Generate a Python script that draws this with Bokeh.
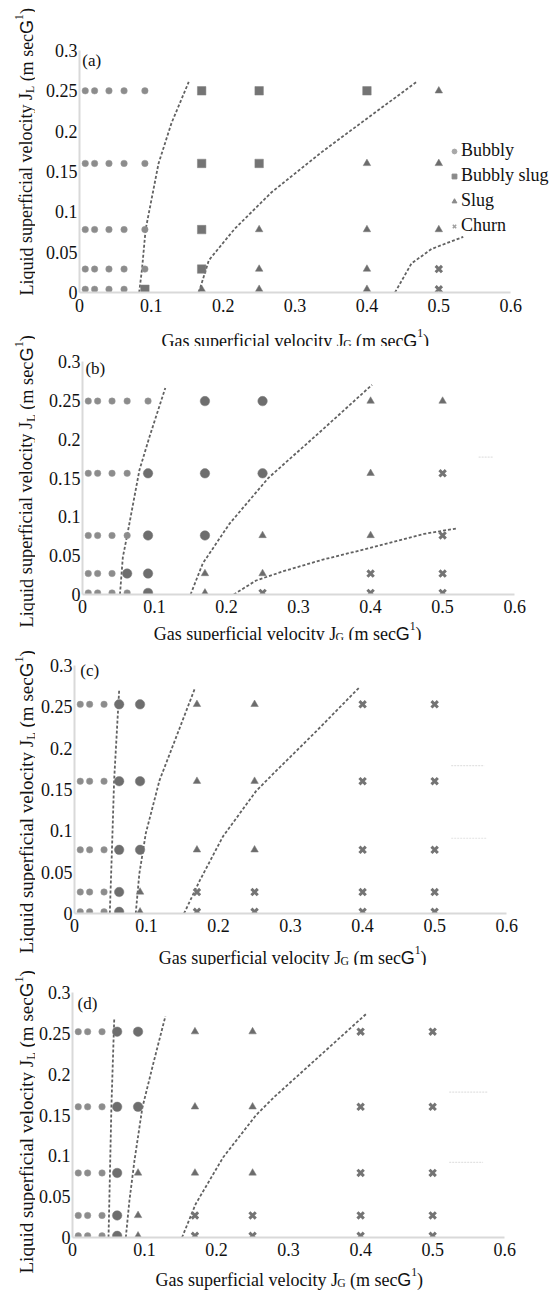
import math
from bokeh.plotting import figure
from bokeh.models import Range1d, FixedTicker, Legend, LegendItem, ColumnDataSource, Spacer
from bokeh.core.properties import field
from bokeh.layouts import row, column
from bokeh.embed import file_html
from bokeh.resources import INLINE

# ---------------- data ----------------
X_TICKS = [0, 0.1, 0.2, 0.3, 0.4, 0.5, 0.6]
X_TICK_LABELS = ["0", "0.1", "0.2", "0.3", "0.4", "0.5", "0.6"]
Y_TICKS = [0, 0.05, 0.1, 0.15, 0.2, 0.25, 0.3]
Y_TICK_LABELS = ["0", "0.05", "0.1", "0.15", "0.2", "0.25", "0.3"]

JG = [0.008, 0.021, 0.041, 0.062, 0.091, 0.17, 0.25, 0.4, 0.5]

JL_A = [0.25, 0.16, 0.078, 0.029, 0.004]
JL_B = [0.249, 0.156, 0.076, 0.027, 0.002]
JL_C = [0.253, 0.160, 0.077, 0.026, 0.002]
JL_D = [0.252, 0.160, 0.079, 0.027, 0.002]

# B = bubbly, S = bubbly slug, T = slug, C = churn (one string per JL row, one letter per JG)
REGIME_A = ["BBBBBSSST", "BBBBBSSTT", "BBBBBSTTT", "BBBBBSTTC", "BBBBSTTTC"]
REGIME_B = ["BBBBBSSTT", "BBBBSSSTC", "BBBBSSTTC", "BBBSSTTCC", "BBBBSTCCC"]
REGIME_C = ["BBBSSTTCC", "BBBSSTTCC", "BBBSSTTCC", "BBBSTCCCC", "BBBSTCCCC"]
REGIME_D = ["BBBSSTTCC", "BBBSSTTCC", "BBBSTTTCC", "BBBSTCCCC", "BBBSTCCCC"]

# transition boundaries (dashed)
A1_X = [0.083, 0.087, 0.092, 0.110, 0.128, 0.152]
A1_Y = [0.0, 0.029, 0.078, 0.160, 0.210, 0.261]
A2_X = [0.166, 0.180, 0.216, 0.267, 0.337, 0.402, 0.469]
A2_Y = [0.0, 0.040, 0.079, 0.124, 0.174, 0.217, 0.261]
A3_X = [0.439, 0.462, 0.490, 0.534]
A3_Y = [0.0, 0.036, 0.054, 0.069]

B1_X = [0.052, 0.056, 0.062, 0.079, 0.093, 0.115]
B1_Y = [0.0, 0.048, 0.076, 0.160, 0.203, 0.266]
B2_X = [0.150, 0.167, 0.204, 0.258, 0.333, 0.402]
B2_Y = [0.0, 0.040, 0.091, 0.150, 0.212, 0.270]
B3_X = [0.210, 0.241, 0.279, 0.334, 0.404, 0.474, 0.519]
B3_Y = [0.0, 0.018, 0.030, 0.045, 0.061, 0.078, 0.085]

C1_X = [0.049, 0.052, 0.055, 0.062]
C1_Y = [0.0, 0.077, 0.161, 0.270]
C2_X = [0.085, 0.090, 0.099, 0.118, 0.141, 0.167]
C2_Y = [0.0, 0.048, 0.097, 0.161, 0.213, 0.272]
C3_X = [0.152, 0.174, 0.206, 0.252, 0.277, 0.334, 0.396]
C3_Y = [0.0, 0.040, 0.093, 0.148, 0.170, 0.219, 0.274]

D1_X = [0.050, 0.052, 0.054, 0.058]
D1_Y = [0.0, 0.079, 0.160, 0.269]
D2_X = [0.074, 0.079, 0.086, 0.097, 0.113, 0.129]
D2_Y = [0.0, 0.045, 0.094, 0.159, 0.216, 0.271]
D3_X = [0.152, 0.171, 0.209, 0.255, 0.280, 0.339, 0.408]
D3_Y = [0.0, 0.041, 0.098, 0.150, 0.172, 0.219, 0.274]

# faint leftover legend strokes at the right of panels b-d
FAINT_B = [([0.550, 0.570], [0.177, 0.177])]
FAINT_C = [([0.523, 0.569], [0.179, 0.179]), ([0.523, 0.572], [0.091, 0.091])]
FAINT_D = [([0.523, 0.577], [0.178, 0.178]), ([0.523, 0.570], [0.092, 0.092])]

LEGEND_LABELS = {"B": "Bubbly", "S": "Bubbly slug", "T": "Slug", "C": "Churn"}

# ---------------- styling ----------------
SERIF = "Liberation Serif"
SANS = "Liberation Sans"
SERIF_W = {'G': 722, 'a': 444, 's': 389, ' ': 250, 'u': 500, 'p': 500, 'e': 444, 'r': 333,
           'f': 333, 'i': 278, 'c': 444, 'l': 278, 'v': 500, 'o': 500, 't': 278, 'y': 500,
           'J': 389, 'L': 611, 'q': 500, 'd': 500, '(': 333, 'm': 778, ')': 333, '1': 500}
SANS_W = {'G': 778}
TXT = "#111111"


def tw(s, font, size):
    table = SANS_W if font == SANS else SERIF_W
    return sum(table[c] for c in s) * size / 1000.0


def pieces(main, sub):
    # (text, font, relative size, baseline shift in em)
    return [(main, SERIF, 1.0, 0.0), (sub, SERIF, 0.65, -0.22), (" (m sec", SERIF, 1.0, 0.0),
            ("G", SANS, 1.0, 0.0), ("1", SERIF, 0.65, 0.40), (")", SERIF, 1.0, 0.0)]


XT = pieces("Gas superficial velocity J", "G")
YT = pieces("Liquid superficial velocity J", "L")

MK = {
    "B": dict(marker="circle", size=6.5, fill_color="#8c8c8c", line_color="#9a9a9a", line_width=0.5),
    "T": dict(marker="triangle", size=7.5, fill_color="#6c6c6c", line_color="#7a7a7a", line_width=0.5),
    "C": dict(marker="x", size=9, line_color="#747474", line_width=3),
}
MK_S_SQUARE = dict(marker="square", size=8.5, fill_color="#747474", line_color="#808080", line_width=0.5)
MK_S_CIRCLE = dict(marker="circle", size=9.5, fill_color="#6e6e6e", line_color="#7c7c7c", line_width=0.5)
MK_LEG = {
    "B": dict(marker="circle", fill_color="#a8a8a8", line_color="#a8a8a8"),
    "S": dict(marker="square", fill_color="#8a8a8a", line_color="#8a8a8a"),
    "T": dict(marker="triangle", fill_color="#8a8a8a", line_color="#8a8a8a"),
    "C": dict(marker="x", line_color="#a0a0a0", line_width=1.5),
}

PAGE_W, PAGE_H = 549, 1291
STRIP_W = 35
W_COL = PAGE_W - STRIP_W
L_COMMON = 35                      # identical left border for every plot in the column
BASE_LEFT = STRIP_W + L_COMMON     # frame left (page px) when no spacer is used


def bare(fig):
    fig.xgrid.visible = False
    fig.ygrid.visible = False
    fig.outline_line_color = None
    fig.background_fill_color = "white"
    fig.border_fill_color = "white"


def add_pieces(fig, parts, x, y, size, vertical=False):
    cols = dict(x=[], y=[], text=[], font=[], fs=[], angle=[])
    off = 0.0
    for txt, font, rel, shift in parts:
        fs = size * rel
        lead = len(txt) - len(txt.lstrip(" "))
        off += tw(" " * lead, font, fs)
        body = txt.lstrip(" ")
        if vertical:
            cols["x"].append(x - shift * size)
            cols["y"].append(y - off)
            cols["angle"].append(math.pi / 2)
        else:
            cols["x"].append(x + off)
            cols["y"].append(y - shift * size)
            cols["angle"].append(0.0)
        cols["text"].append(body)
        cols["font"].append(font)
        cols["fs"].append(f"{fs:.1f}px")
        off += tw(body, font, fs)
    fig.text(x="x", y="y", text="text", angle="angle", text_font=field("font"),
             text_font_size=field("fs"), text_baseline="alphabetic", text_align="left",
             text_color=TXT, source=ColumnDataSource(cols))


def make_panel(tag, jl, regime, curves, faint, box, s_square, tagpos, xstand, T=3, legend=False):
    # box: canvas top/bottom (page px), page x of JG=0 and 0.6, page y of JL=0 and 0.3
    top, bottom, x0, x6, y0, y3 = box
    pad = int(round(x0 - BASE_LEFT))
    width = W_COL - pad
    B = int(round(bottom - y0))
    ppx = (x6 - x0) / 0.6
    ppy = (y0 - y3) / 0.3
    xmax = (PAGE_W - x0) / ppx
    ymax = (y0 - (top + T)) / ppy
    p = figure(width=width, height=int(bottom - top), min_border_left=L_COMMON, min_border_right=0,
               min_border_top=T, min_border_bottom=B, x_range=Range1d(0, xmax),
               y_range=Range1d(0, ymax), output_backend="svg", toolbar_location=None, tools="")
    bare(p)
    for ax, ticks, labels, bnd in ((p.xaxis, X_TICKS, X_TICK_LABELS, (0, 0.6)),
                                   (p.yaxis, Y_TICKS, Y_TICK_LABELS, (0, 0.3))):
        ax.ticker = FixedTicker(ticks=ticks)
        ax.major_label_overrides = dict(zip(ticks, labels))
        ax.bounds = bnd
        ax.axis_line_color = "#d9d9d9"
        ax.axis_line_width = 2
        ax.major_tick_line_color = None
        ax.minor_tick_line_color = None
        ax.major_tick_out = 0
        ax.major_tick_in = 0
        ax.minor_tick_out = 0
        ax.minor_tick_in = 0
        ax.major_label_text_font = SERIF
        ax.major_label_text_font_size = "18px"
        ax.major_label_text_color = TXT
    p.xaxis.major_label_standoff = xstand
    p.yaxis.major_label_standoff = 2

    for fx, fy in faint:
        p.line(fx, fy, line_color="#e2e2e2", line_width=1.2, line_dash="2 1")
    for cx, cy in curves:
        p.line(cx, cy, line_color="#626262", line_width=1.8, line_dash="3 2")

    for code in ["B", "S", "T", "C"]:
        xs, ys = [], []
        for yv, line in zip(jl, regime):
            for xv, c in zip(JG, line):
                if c == code:
                    xs.append(xv)
                    ys.append(yv)
        style = MK.get(code) if code != "S" else (MK_S_SQUARE if s_square else MK_S_CIRCLE)
        p.scatter(xs, ys, **style)

    if legend:
        items = []
        for c in ["B", "S", "T", "C"]:
            r = p.scatter([float("nan")], [float("nan")], size=5, **MK_LEG[c])
            items.append(LegendItem(label=LEGEND_LABELS[c], renderers=[r]))
        leg = Legend(items=items, location=(446 - x0, 56), glyph_width=12, glyph_height=12,
                     label_standoff=1, spacing=4, padding=0, margin=0, label_height=20,
                     border_line_color=None, background_fill_alpha=0,
                     label_text_font=SERIF, label_text_font_size="18px", label_text_color=TXT)
        p.add_layout(leg)

    p.text(x=[tagpos[0]], y=[tagpos[1]], text=[tag], text_font={"value": SERIF},
           text_font_size="17px", text_baseline="alphabetic", text_align="left", text_color=TXT)
    if pad > 0:
        return row(Spacer(width=pad, height=int(bottom - top)), p, spacing=0)
    return p


def title_strip(top, bottom, xstart, baseline, size=18):
    # data coordinates = page pixels (y downward)
    s = figure(width=W_COL, height=int(bottom - top), x_range=Range1d(BASE_LEFT, PAGE_W),
               y_range=Range1d(bottom, top), min_border=0, min_border_left=L_COMMON,
               x_axis_location=None, y_axis_location=None,
               output_backend="svg", toolbar_location=None, tools="")
    bare(s)
    add_pieces(s, XT, xstart, baseline, size)
    return s


pa = make_panel("(a)", JL_A, REGIME_A, [(A1_X, A1_Y), (A2_X, A2_Y), (A3_X, A3_Y)], [],
                (0, 322, 77, 510, 292, 50), True, (0.004, 0.287), 6, T=0, legend=True)
ta = title_strip(322, 346, 159.3, 340)
pb = make_panel("(b)", JL_B, REGIME_B, [(B1_X, B1_Y), (B2_X, B2_Y), (B3_X, B3_Y)], FAINT_B,
                (346, 620, 80, 514, 594, 361), False, (0.004, 0.291), 5)
tb = title_strip(620, 640, 151.7, 633)
pc = make_panel("(c)", JL_C, REGIME_C, [(C1_X, C1_Y), (C2_X, C2_Y), (C3_X, C3_Y)], FAINT_C,
                (640, 941, 72, 506, 913, 665), False, (0.008, 0.294), 5)
tc = title_strip(941, 965, 156.7, 957)
pd = make_panel("(d)", JL_D, REGIME_D, [(D1_X, D1_Y), (D2_X, D2_Y), (D3_X, D3_Y)], FAINT_D,
                (965, 1264, 70, 504, 1237, 992), False, (0.007, 0.287), 5)
td = title_strip(1264, 1291, 153.3, 1279)

# strip on the left holding the rotated y titles (data = page pixels, y downward)
strip = figure(width=STRIP_W, height=PAGE_H, x_range=Range1d(0, STRIP_W), y_range=Range1d(PAGE_H, 0),
               min_border=0, x_axis_location=None, y_axis_location=None,
               output_backend="svg", toolbar_location=None, tools="")
bare(strip)

YTITLES = [(295, 18.0), (627, 18.3), (953, 19.0), (1273, 19.0)]  # (page y of text start, font px)
for start, size in YTITLES:
    add_pieces(strip, YT, 26, start, size, vertical=True)

layout = row(strip, column(pa, ta, pb, tb, pc, tc, pd, td, spacing=0), spacing=0)
open("out.html", "w").write(file_html(layout, INLINE))
